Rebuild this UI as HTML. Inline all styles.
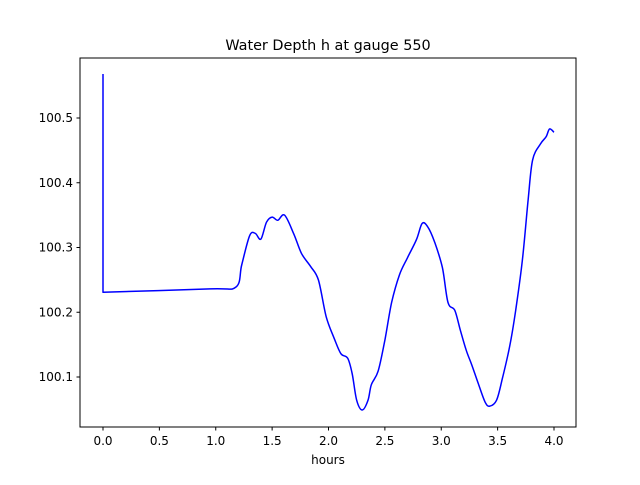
<!DOCTYPE html>
<html><head><meta charset="utf-8"><style>
body{margin:0;background:#fff;font-family:"Liberation Sans","DejaVu Sans",sans-serif}
svg text{font-family:"DejaVu Sans","Liberation Sans",sans-serif;font-size:12px}
</style></head><body>
<svg id="chart" width="640" height="480">
<rect width="640" height="480" fill="#fff"/>
<text x="328" y="50" text-anchor="middle" style="font-size:14.4px">Water Depth h at gauge 550</text>
<g id="plot"></g>
<rect x="80" y="58" width="496" height="369" fill="none" stroke="#000" stroke-width="1"/>
<text x="328" y="464" text-anchor="middle">hours</text>
</svg>
<script>
const hours=[0,0,0.95,1.18,1.23,1.30,1.35,1.40,1.45,1.50,1.55,1.61,1.69,1.76,1.84,1.91,1.98,2.05,2.11,2.17,2.21,2.25,2.30,2.35,2.38,2.44,2.50,2.56,2.63,2.70,2.78,2.83,2.88,2.94,3.01,3.06,3.12,3.17,3.22,3.27,3.33,3.39,3.43,3.49,3.54,3.61,3.66,3.72,3.77,3.81,3.88,3.93,3.96,4.0];
const depth=[100.568,100.231,100.236,100.239,100.273,100.318,100.322,100.313,100.339,100.347,100.342,100.350,100.322,100.291,100.271,100.250,100.193,100.160,100.136,100.129,100.105,100.064,100.049,100.064,100.088,100.109,100.157,100.215,100.258,100.284,100.312,100.337,100.332,100.309,100.269,100.215,100.203,100.172,100.142,100.119,100.089,100.061,100.055,100.064,100.096,100.150,100.203,100.281,100.373,100.435,100.460,100.471,100.483,100.478];
const xTicks=[0,0.5,1,1.5,2,2.5,3,3.5,4];
const xTickLabels=["0.0","0.5","1.0","1.5","2.0","2.5","3.0","3.5","4.0"];
const yTicks=[100.1,100.2,100.3,100.4,100.5];
const yTickLabels=["100.1","100.2","100.3","100.4","100.5"];
const X=h=>103+h*112.75;
const Y=v=>118+(100.5-v)*647.5;
const NS="http://www.w3.org/2000/svg";
const g=document.getElementById('plot');
function mk(t,a){const e=document.createElementNS(NS,t);for(const k in a)e.setAttribute(k,a[k]);g.appendChild(e);return e;}
xTicks.forEach((v,i)=>{
 const l=mk('line',{x1:X(v),x2:X(v),y1:427,y2:430.5,stroke:'#000'});
 
 
 const t=mk('text',{x:X(v),y:445,'text-anchor':'middle'});t.textContent=xTickLabels[i];
 
 
});
yTicks.forEach((v,i)=>{
 const l=mk('line',{x1:76.5,x2:80,y1:Y(v),y2:Y(v),stroke:'#000'});
 
 
 const t=mk('text',{x:73,y:Y(v)+4,'text-anchor':'end'});t.textContent=yTickLabels[i];
 
 
});
const P=hours.map((h,i)=>[X(h),Y(depth[i])]);
let d='M'+P[0][0].toFixed(1)+','+P[0][1].toFixed(1)+' L'+P[1][0].toFixed(1)+','+P[1][1].toFixed(1);
for(let i=1;i<P.length-1;i++){
 const p0=P[Math.max(i-1,1)],p1=P[i],p2=P[i+1],p3=P[Math.min(i+2,P.length-1)];
 const c1=[p1[0]+(p2[0]-p0[0])/6,p1[1]+(p2[1]-p0[1])/6];
 const c2=[p2[0]-(p3[0]-p1[0])/6,p2[1]-(p3[1]-p1[1])/6];
 d+=' C'+c1.map(v=>v.toFixed(1)).join(',')+' '+c2.map(v=>v.toFixed(1)).join(',')+' '+p2.map(v=>v.toFixed(1)).join(',');
}
const p=mk('path',{d:d,fill:'none',stroke:'#0000ff','stroke-width':1.5,'stroke-linejoin':'round'});


</script>
</body></html>
